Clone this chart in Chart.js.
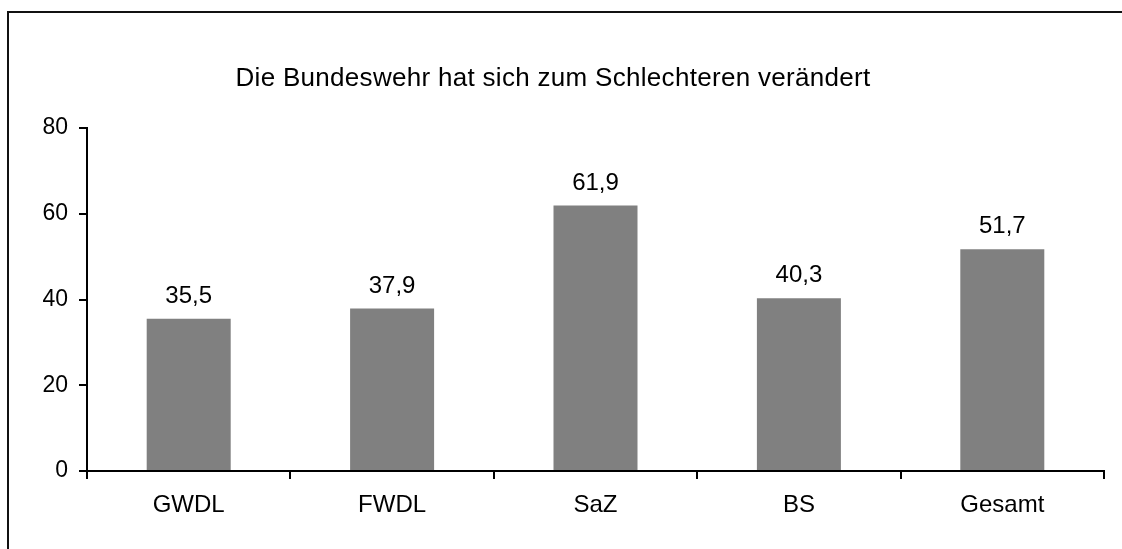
<!DOCTYPE html>
<html>
<head>
<meta charset="utf-8">
<script src="https://cdn.jsdelivr.net/npm/chart.js@4"></script>
<style>
  body { margin: 0; background: #fff; overflow: hidden; }
  #frame { position: absolute; left: 7px; top: 11px; width: 1200px; height: 600px;
           border-left: 2px solid #111; border-top: 2px solid #111; }
  #chart { position: absolute; left: 0; top: 0; }
</style>
</head>
<body>
<div id="frame"></div>
<canvas id="chart" width="1122" height="549"></canvas>
<script>
// data
const categories = ['GWDL', 'FWDL', 'SaZ', 'BS', 'Gesamt'];
const values = [35.5, 37.9, 61.9, 40.3, 51.7];
const titleText = 'Die Bundeswehr hat sich zum Schlechteren verändert';

const FONT = '"Liberation Sans", Arial, sans-serif';

// title drawn above the plot
const titlePlugin = {
    id: 'topTitle',
    afterDraw(chart) {
        const ctx = chart.ctx;
        ctx.save();
        ctx.font = '26px ' + FONT;
        ctx.letterSpacing = '0.3px';
        ctx.fillStyle = '#000';
        ctx.textAlign = 'center';
        ctx.textBaseline = 'middle';
        ctx.fillText(titleText, 553, 79);
        ctx.restore();
    }
};

// value labels above bars, German decimal comma
const valueLabels = {
    id: 'valueLabels',
    afterDatasetsDraw(chart) {
        const ctx = chart.ctx;
        const meta = chart.getDatasetMeta(0);
        ctx.save();
        ctx.font = '24px ' + FONT;
        ctx.fillStyle = '#000';
        ctx.textAlign = 'center';
        ctx.textBaseline = 'alphabetic';
        meta.data.forEach((bar, i) => {
            ctx.fillText(values[i].toFixed(1).replace('.', ','), bar.x, bar.y - 16);
        });
        ctx.restore();
    }
};

new Chart(document.getElementById('chart'), {
    type: 'bar',
    data: {
        labels: categories,
        datasets: [{
            data: values,
            backgroundColor: '#808080',
            borderWidth: 0,
            categoryPercentage: 1,
            barPercentage: 0.413,
        }]
    },
    options: {
        responsive: false,
        animation: false,
        layout: { padding: { left: 0, right: 18, top: 128, bottom: 0 } },
        plugins: {
            legend: { display: false },
            tooltip: { enabled: false },
        },
        scales: {
            x: {
                offset: true,
                grid: { offset: true, drawOnChartArea: false, drawTicks: true, tickLength: 8, color: '#000', lineWidth: 2 },
                border: { display: true, color: '#000', width: 2 },
                ticks: { color: '#000', font: { family: FONT, size: 24 }, padding: 12, maxRotation: 0 },
                afterFit(scale) { scale.height = 78; },
            },
            y: {
                min: 0,
                max: 80,
                grid: { drawOnChartArea: false, drawTicks: true, tickLength: 8, color: '#000', lineWidth: 2 },
                border: { display: true, color: '#000', width: 2 },
                ticks: { stepSize: 20, color: '#000', font: { family: FONT, size: 23 }, padding: 11 },
                afterFit(scale) { scale.width = 87; },
            }
        }
    },
    plugins: [titlePlugin, valueLabels]
});
</script>
</body>
</html>
